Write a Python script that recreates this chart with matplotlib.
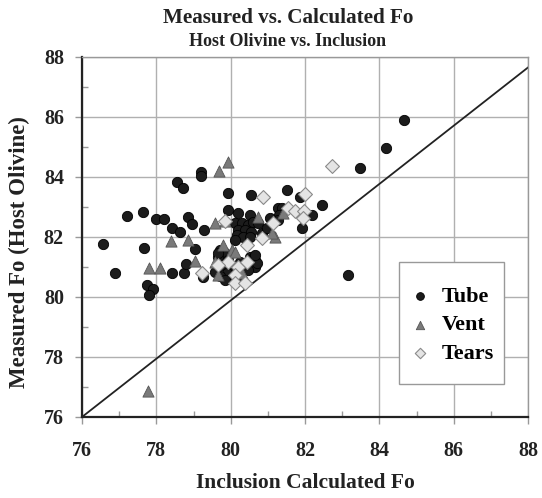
import matplotlib
matplotlib.use("Agg")
import matplotlib.pyplot as plt
from matplotlib.patches import Rectangle
from matplotlib.ticker import MultipleLocator

plt.rcParams['font.family'] = ['Liberation Serif', 'DejaVu Serif']

# Tube (black circles)
tube_x = [76.57, 76.89, 77.20, 77.65, 77.68, 77.76, 77.90, 77.80, 77.99, 78.20,
          78.41, 78.65, 78.55, 78.73, 78.43, 78.75, 78.80, 78.86, 78.95, 79.04,
          79.19, 79.19, 79.29, 79.26, 79.94, 80.56, 79.94, 80.20, 80.52,
          80.12, 80.30, 80.47, 80.61, 80.74, 80.20, 80.39, 80.56, 80.16, 80.34,
          80.52, 80.83, 80.97, 80.12,
          79.71, 79.85, 79.67, 79.94, 79.76, 80.03, 80.25, 80.52, 80.65, 80.65,
          80.47, 79.89, 79.71, 80.12, 79.85, 80.30, 79.58, 80.60, 80.70,
          81.27, 81.51, 81.86, 82.45, 82.18, 81.91, 81.37, 81.31, 81.28, 81.06,
          80.65, 83.48, 84.18, 84.66, 83.17, 79.66]
tube_y = [81.77, 80.79, 82.70, 82.82, 81.64, 80.40, 80.27, 80.07, 82.60, 82.60,
          82.29, 82.18, 83.82, 83.64, 80.81, 80.79, 81.09, 82.66, 82.42, 81.60,
          84.18, 84.03, 82.23, 80.68, 83.46, 83.40, 82.90, 82.79, 82.73,
          82.46, 82.46, 82.40, 82.51, 82.46, 82.23, 82.23, 82.18, 82.07, 82.01,
          82.01, 82.12, 82.29, 81.90,
          81.57, 81.46, 81.34, 81.23, 81.07, 81.01, 81.18, 81.34, 81.23, 81.01,
          80.90, 80.79, 80.71, 80.68, 80.57, 80.57, 80.84, 81.30, 81.13,
          82.97, 83.57, 83.34, 83.07, 82.73, 82.29, 82.95, 82.73, 82.57, 82.62,
          81.40, 84.29, 84.98, 85.90, 80.73, 81.47]

# Vent (grey triangles)
vent_x = [79.94, 79.69, 79.58, 78.39, 78.86, 79.04, 77.81, 78.10, 79.80, 80.03,
          80.12, 79.58, 79.67, 80.30, 80.74, 81.19, 81.42, 81.10, 79.85, 77.78]
vent_y = [84.51, 84.21, 82.48, 81.87, 81.90, 81.20, 80.98, 80.98, 81.73, 81.57,
          81.51, 81.18, 80.73, 80.79, 82.66, 82.01, 82.81, 82.12, 82.53, 76.88]

# Tears (light diamonds)
tears_x = [82.72, 80.86, 82.00, 81.55, 81.73, 81.98, 81.95, 81.15, 80.83, 80.43,
           79.85, 79.94, 79.67, 80.20, 80.43, 79.22, 80.12, 80.12, 80.39]
tears_y = [84.37, 83.34, 83.43, 82.96, 82.86, 82.86, 82.62, 82.48, 81.96, 81.74,
           82.54, 81.18, 81.05, 81.01, 81.18, 80.79, 80.73, 80.45, 80.46]

# reference line
line_x = [76, 88]
line_y = [76, 87.65]

fig = plt.figure(figsize=(5.42, 4.98), dpi=100)
ax = fig.add_axes([0.1513, 0.1627, 0.8229, 0.7229])

ax.plot(line_x, line_y, color="#222222", lw=1.3, zorder=2)
ax.scatter(tube_x, tube_y, s=55, marker="o", color="#1c1c1c", edgecolors="#000000",
           linewidths=0.6, label="Tube", zorder=3)
ax.scatter(vent_x, vent_y, s=65, marker="^", color="#7a7a7a", edgecolors="#555555",
           linewidths=0.6, label="Vent", zorder=4)
ax.scatter(tears_x, tears_y, s=50, marker="D", color="#e4e4e4", edgecolors="#8a8a8a",
           linewidths=0.8, label="Tears", zorder=5)

ax.set_xlim(76, 88)
ax.set_ylim(76, 88)
ax.xaxis.set_major_locator(MultipleLocator(2))
ax.yaxis.set_major_locator(MultipleLocator(2))
ax.xaxis.set_minor_locator(MultipleLocator(1))
ax.yaxis.set_minor_locator(MultipleLocator(1))
ax.grid(True, which="major", color="#b0b0b0", lw=1.0, zorder=0)
ax.set_axisbelow(True)
ax.tick_params(which="major", direction="out", length=5, width=1, color="#999999",
               labelsize=14.5, labelcolor="#222222")
ax.tick_params(axis="x", which="major", pad=12)
ax.tick_params(axis="y", which="major", pad=8)
ax.tick_params(which="minor", direction="in", length=4, width=1, color="#999999")
for lab in ax.get_xticklabels() + ax.get_yticklabels():
    lab.set_fontweight("bold")

for s in ["left", "bottom"]:
    ax.spines[s].set_color("#222222")
    ax.spines[s].set_linewidth(1.6)
for s in ["top", "right"]:
    ax.spines[s].set_color("#999999")
    ax.spines[s].set_linewidth(1.0)

fig.text(305 / 542, 1 - 483 / 498, "Inclusion Calculated Fo", ha="center", va="center",
         fontsize=15.5, fontweight="bold", color="#222222")
fig.text(19 / 542, 1 - 252 / 498, "Measured Fo (Host Olivine)", ha="center", va="center",
         rotation=90, fontsize=16.5, fontweight="bold", color="#222222")

fig.text(288 / 542, 1 - 18 / 498, "Measured vs. Calculated Fo", ha="center", va="center",
         fontsize=15.2, fontweight="bold", color="#222222")
fig.text(288 / 542, 1 - 42 / 498, "Host Olivine vs. Inclusion", ha="center", va="center",
         fontsize=13, fontweight="bold", color="#222222")

# legend box
box = Rectangle((0.711, 0.092), 0.235, 0.339, transform=ax.transAxes, facecolor="white",
                edgecolor="#999999", lw=1.0, zorder=6)
ax.add_patch(box)
leg = ax.legend(loc="center", bbox_to_anchor=(0.8285, 0.255),
                prop={"weight": "bold", "size": 16}, frameon=False,
                labelspacing=0.35, handletextpad=0.5, handlelength=1.0,
                markerscale=0.75)
leg.set_zorder(7)

fig.savefig("out.png", dpi=100)
